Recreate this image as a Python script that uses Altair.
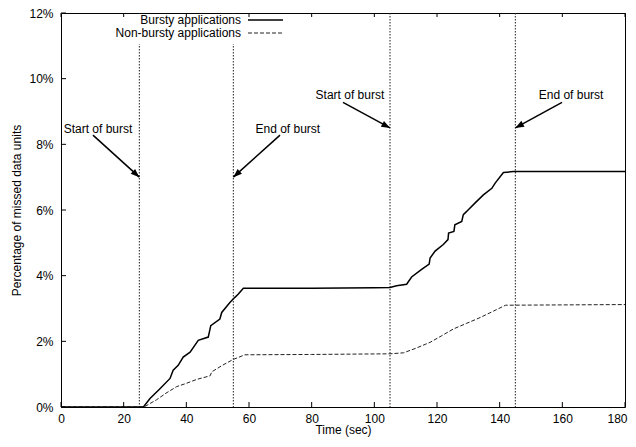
import altair as alt
import pandas as pd
import numpy as np

# ---- data ----
time_bursty = [0, 26.3, 28.4, 31.5, 34.8, 35.8, 37.4, 39.0, 41.2, 43.8, 47.0, 47.8,
               50.7, 51.3, 53.9, 55.5, 56.6, 58.2, 80, 100, 105, 107.1, 110.3, 111.9,
               115.1, 117.5, 117.8, 119.4, 122.0, 123.5, 123.7, 125.4, 125.7, 127.9,
               128.4, 130.0, 132.1, 134.8, 137.5, 138.5, 141.2, 144.4, 180]
pct_bursty = [0, 0, 0.26, 0.55, 0.87, 1.12, 1.27, 1.52, 1.67, 2.03, 2.13, 2.48,
              2.68, 2.88, 3.18, 3.34, 3.44, 3.62, 3.62, 3.63, 3.64, 3.69, 3.74, 3.96,
              4.19, 4.35, 4.54, 4.75, 4.95, 5.10, 5.30, 5.35, 5.55, 5.65,
              5.86, 6.01, 6.21, 6.46, 6.66, 6.81, 7.14, 7.17, 7.17]

time_nonbursty = [0, 26.5, 30.5, 33.5, 36.9, 40, 43.3, 47.6, 48.1, 51.5, 55, 58.7,
                  80, 105, 109.3, 113, 117.8, 121.5, 125.3, 129.5, 133.9, 138, 141.9, 180]
pct_nonbursty = [0, 0, 0.22, 0.42, 0.62, 0.72, 0.84, 0.95, 1.07, 1.27, 1.45, 1.59,
                 1.60, 1.62, 1.65, 1.78, 1.97, 2.17, 2.38, 2.55, 2.73, 2.92, 3.10, 3.12]

series_names = ["Bursty applications", "Non-bursty applications"]
burst_times = [25, 55, 105, 145]
x_ticks = [0, 20, 40, 60, 80, 100, 120, 140, 160, 180]
y_ticks = [0, 2, 4, 6, 8, 10, 12]

ann_labels = ["Start of burst", "End of burst", "Start of burst", "End of burst"]
ann_text_t = [11.8, 72.4, 92.2, 162.8]
ann_text_v = [8.46, 8.46, 9.49, 9.49]
ann_tail_t = [10.2, 69.9, 90.0, 159.9]
ann_tail_v = [8.28, 8.28, 9.28, 9.28]
ann_head_t = [25, 55, 105, 145]
ann_head_v = [7.0, 7.0, 8.5, 8.5]

# ---- layout ----
W, H = 564, 394
TOP = 5
XMAX, YMAX = 180, 12
FONT = "Liberation Sans"

xs = alt.Scale(domain=[0, XMAX], nice=False, zero=False)
ys = alt.Scale(domain=[0, YMAX], nice=False)

x_axis = alt.Axis(values=x_ticks, ticks=False, domain=False, grid=False,
                  labelPadding=6, labelFlush=False, title="Time (sec)", titlePadding=0,
                  labelOffset={"condition": {"test": f"datum.value == {XMAX}", "value": -8},
                               "value": 0})
y_axis = alt.Axis(values=y_ticks, ticks=False, domain=False, grid=False,
                  labelPadding=8, labelExpr="datum.value + '%'",
                  title="Percentage of missed data units", titlePadding=5)


def X(field):
    return alt.X(field, scale=xs, axis=x_axis, title="Time (sec)")


def Y(field):
    return alt.Y(field, scale=ys, axis=y_axis, title="Percentage of missed data units")


df_b = pd.DataFrame({"t": time_bursty, "v": pct_bursty})
df_n = pd.DataFrame({"t": time_nonbursty, "v": pct_nonbursty})

bursty = alt.Chart(df_b).mark_line(color="black", strokeWidth=1.5).encode(
    x=X("t:Q"), y=Y("v:Q"))
nonbursty = alt.Chart(df_n).mark_line(color="#222", strokeWidth=1, strokeDash=[4, 2]).encode(
    x=X("t:Q"), y=Y("v:Q"))

vlines = alt.Chart(pd.DataFrame({"t": burst_times})).mark_rule(
    color="#222", strokeWidth=1, strokeDash=[1.5, 1.5]
).encode(x=X("t:Q"))

# inward ticks (gnuplot style): bottom, top, left
df_xt = pd.DataFrame({"t": x_ticks})
df_yt = pd.DataFrame({"v": y_ticks})
ticks_bottom = alt.Chart(df_xt).mark_rule(color="black", strokeWidth=1).encode(
    x=X("t:Q"), y=alt.value(H), y2=alt.value(H - 5))
ticks_top = alt.Chart(df_xt).mark_rule(color="black", strokeWidth=1).encode(
    x=X("t:Q"), y=alt.value(0), y2=alt.value(4))
ticks_left = alt.Chart(df_yt).mark_rule(color="black", strokeWidth=1).encode(
    y=Y("v:Q"), x=alt.value(0), x2=alt.value(5))

# legend (opaque box as in gnuplot)
legend_box = alt.Chart(pd.DataFrame({"a": [0]})).mark_rect(color="white").encode(
    x=alt.value(44), x2=alt.value(229), y=alt.value(1), y2=alt.value(31))
legend_layers = []
for i, name in enumerate(series_names):
    py = 7 + 13 * i
    d = pd.DataFrame({"name": [name]})
    legend_layers.append(
        alt.Chart(d).mark_text(align="right", baseline="middle", font=FONT,
                               fontSize=12, color="black").encode(
            x=alt.value(180), y=alt.value(py), text="name:N"))
    if i == 0:
        mk = alt.Chart(d).mark_rule(color="black", strokeWidth=1.5)
    else:
        mk = alt.Chart(d).mark_rule(color="#222", strokeWidth=1, strokeDash=[4, 2])
    legend_layers.append(mk.encode(x=alt.value(187), x2=alt.value(222), y=alt.value(py)))

# annotations with arrows
df_ann = pd.DataFrame({
    "label": ann_labels, "tt": ann_text_t, "tv": ann_text_v,
    "t0": ann_tail_t, "v0": ann_tail_v, "t1": ann_head_t, "v1": ann_head_v,
})
dx = (df_ann.t1 - df_ann.t0) * W / XMAX
dvy = (df_ann.v1 - df_ann.v0) * H / YMAX
df_ann["ang"] = (np.degrees(np.arctan2(dx, dvy)) + 360) % 360

ann_text = alt.Chart(df_ann).mark_text(
    align="center", baseline="middle", font=FONT, fontSize=12, color="black"
).encode(x=X("tt:Q"), y=Y("tv:Q"), text="label:N")
ann_shaft = alt.Chart(df_ann).mark_rule(color="black", strokeWidth=1.5).encode(
    x=X("t0:Q"), y=Y("v0:Q"), x2="t1:Q", y2="v1:Q")
ann_head = alt.Chart(df_ann).mark_point(
    shape="M0,0L-0.38,1L0.38,1Z", filled=True, color="black", opacity=1, size=300
).encode(x=X("t1:Q"), y=Y("v1:Q"), angle=alt.Angle("ang:Q", scale=None))

chart = alt.layer(
    vlines, legend_box, nonbursty, bursty, ticks_bottom, ticks_top, ticks_left,
    ann_shaft, ann_head, ann_text, *legend_layers
).properties(
    width=W, height=H, background="white",
    autosize=alt.AutoSizeParams(type="none"),
    padding={"left": 53, "top": TOP, "right": 3, "bottom": 32},
).configure_view(
    stroke="black", strokeWidth=1
).configure_axis(
    labelFont=FONT, labelFontSize=12, labelColor="black",
    titleFont=FONT, titleFontSize=12, titleFontWeight="normal", titleColor="black",
    domain=False, ticks=False, grid=False,
)

chart.save("out.html", embed_options={"renderer": "svg", "actions": False})
